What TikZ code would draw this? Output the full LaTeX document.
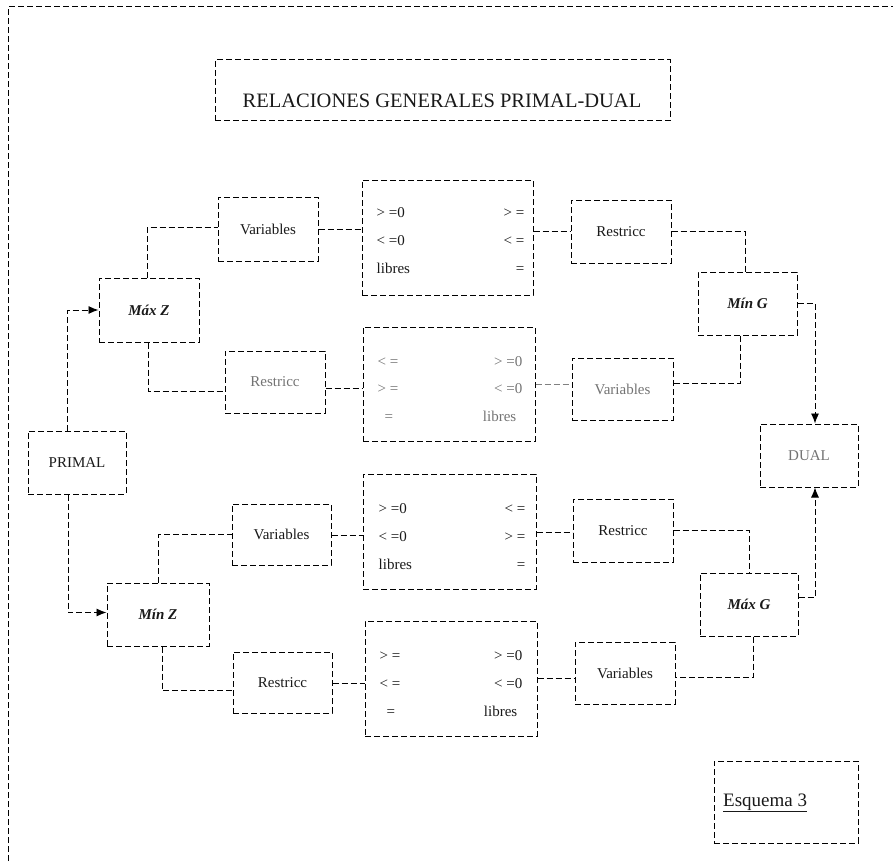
\documentclass[tikz,border=0pt]{standalone}
\usepackage{fontspec}
\setmainfont{Liberation Serif}
\usetikzlibrary{calc,arrows.meta}
\begin{document}
\begin{tikzpicture}[x=1pt,y=-1pt,
  every node/.style={font=\fontsize{15}{18}\selectfont, text=black!90},
  dashline/.style={draw=black, dash pattern=on 6pt off 3pt, line width=1pt},
  box/.style n args={2}{dashline, inner sep=0pt, minimum width=#1, minimum height=#2},
  conn/.style={dashline, line width=0.95pt},
  arr/.style={conn, -{Latex[length=10pt,width=8pt]}},
  faded/.style={text=black!55},
  cl/.style={anchor=base west, inner sep=0pt},
  cr/.style={anchor=base east, inner sep=0pt},
  mz/.style={font=\fontsize{15}{18}\selectfont\bfseries\itshape}
]
\useasboundingbox (0,0) rectangle (893,861);
% outer frame
\draw[dashline] (8,861) -- (8,7) -- (893,7);

% title
\node[box={455}{61}] (title) at (442.5,90.5) {};
\node[font=\fontsize{20.5}{24}\selectfont, anchor=base, inner sep=0pt] (titletxt) at (442,108) {RELACIONES GENERALES PRIMAL-DUAL};

% main boxes
\node[box={98}{63}] (primal) at (77,462.5) {PRIMAL};
\node[box={98}{63}, faded] (dual) at (809,455.5) {DUAL};

\node[box={100}{64}, mz] (maxZ) at (149,310) {Máx Z};
\node[box={102}{63}, mz] (minZ) at (158,614.5) {Mín Z};
\node[box={99}{63}, mz] (minG) at (747.5,303.5) {Mín G};
\node[box={98}{63}, mz] (maxG) at (749,604.5) {Máx G};

\node[box={100}{64}] (varA) at (268,229) {Variables};
\node[box={100}{62}, faded] (resB) at (275,382) {Restricc};
\node[box={99}{61}] (varC) at (281.5,534.5) {Variables};
\node[box={99}{61}] (resD) at (282.5,682.5) {Restricc};

\node[box={100}{63}] (resA) at (621,231.5) {Restricc};
\node[box={101}{62}, faded] (varB) at (622.5,389) {Variables};
\node[box={100}{63}] (resC) at (623,530.5) {Restricc};
\node[box={100}{62}] (varD) at (625,673) {Variables};

% tables
\node[box={171}{115}] (tab1) at (447.5,237.5) {};
\node[box={172}{114}] (tab2) at (449,384) {};
\node[box={173}{115}] (tab3) at (449.5,531.5) {};
\node[box={172}{115}] (tab4) at (451,678.5) {};

\node[cl] (t1a) at ($(tab1.north west)+(15,38)$) {> =0};
\node[cl] (t1b) at ($(tab1.north west)+(15,66)$) {< =0};
\node[cl] (t1c) at ($(tab1.north west)+(15,94)$) {libres};
\node[cr] (t1d) at ($(tab1.north east)+(-9,38)$) {> =};
\node[cr] (t1e) at ($(tab1.north east)+(-9,66)$) {< =};
\node[cr] (t1f) at ($(tab1.north east)+(-9,94)$) {=};

\node[cl, faded] (t2a) at ($(tab2.north west)+(15,40)$) {< =};
\node[cl, faded] (t2b) at ($(tab2.north west)+(15,67)$) {> =};
\node[cl, faded] (t2c) at ($(tab2.north west)+(22,95)$) {=};
\node[cr, faded] (t2d) at ($(tab2.north east)+(-13,40)$) {> =0};
\node[cr, faded] (t2e) at ($(tab2.north east)+(-13,67)$) {< =0};
\node[cr, faded] (t2f) at ($(tab2.north east)+(-19,95)$) {libres};

\node[cl] (t3a) at ($(tab3.north west)+(16,40)$) {> =0};
\node[cl] (t3b) at ($(tab3.north west)+(16,68)$) {< =0};
\node[cl] (t3c) at ($(tab3.north west)+(16,96)$) {libres};
\node[cr] (t3d) at ($(tab3.north east)+(-11,40)$) {< =};
\node[cr] (t3e) at ($(tab3.north east)+(-11,68)$) {> =};
\node[cr] (t3f) at ($(tab3.north east)+(-11,96)$) {=};

\node[cl] (t4a) at ($(tab4.north west)+(15,40)$) {> =};
\node[cl] (t4b) at ($(tab4.north west)+(15,68)$) {< =};
\node[cl] (t4c) at ($(tab4.north west)+(22,96)$) {=};
\node[cr] (t4d) at ($(tab4.north east)+(-15,40)$) {> =0};
\node[cr] (t4e) at ($(tab4.north east)+(-15,68)$) {< =0};
\node[cr] (t4f) at ($(tab4.north east)+(-20,96)$) {libres};

% Esquema
\node[box={144}{82}] (esq) at (786,802) {};
\node[font=\fontsize{19}{22}\selectfont, anchor=base west, inner sep=0pt] (esqtxt) at (723,806) {\underline{Esquema 3}};

% connectors
\draw[arr] ($(primal.north)+(-10,0)$) |- (maxZ.west);
\draw[arr] ($(primal.south)+(-9,0)$) |- ($(minZ.west)+(0,-2)$);

\draw[conn] ($(maxZ.north)+(-2,0)$) |- ($(varA.west)+(0,-2)$);
\draw[conn] ($(maxZ.south)+(-1,0)$) |- ($(resB.west)+(0,9)$);
\draw[conn] (varA.east) -- (varA.east -| tab1.west);
\draw[conn] ($(resB.east)+(0,6)$) -- ($(resB.east -| tab2.west)+(0,6)$);
\draw[conn] (resA.west -| tab1.east) -- (resA.west);
\draw[conn, draw=black!50] ($(varB.west -| tab2.east)+(0,-5)$) -- ($(varB.west)+(0,-5)$);
\draw[conn] (resA.east) -| ($(minG.north)+(-2,0)$);
\draw[arr] (minG.east) -| ($(dual.north)+(6,0)$);
\draw[conn] ($(minG.south)+(-7,0)$) |- ($(varB.east)+(0,-6)$);

\draw[conn] (minZ.north) |- (varC.west);
\draw[conn] ($(minZ.south)+(4,0)$) |- ($(resD.west)+(0,8)$);
\draw[conn] ($(varC.east)+(0,1)$) -- ($(varC.east -| tab3.west)+(0,1)$);
\draw[conn] ($(resD.east)+(0,1)$) -- ($(resD.east -| tab4.west)+(0,1)$);
\draw[conn] ($(resC.west -| tab3.east)+(0,2)$) -- ($(resC.west)+(0,2)$);
\draw[conn] ($(varD.west -| tab4.east)+(0,5)$) -- ($(varD.west)+(0,5)$);
\draw[conn] (resC.east) -| (maxG.north);
\draw[arr] ($(maxG.east)+(0,-7)$) -| ($(dual.south)+(6,0)$);
\draw[conn] ($(maxG.south)+(4,0)$) |- ($(varD.east)+(0,4)$);
\end{tikzpicture}
\end{document}
